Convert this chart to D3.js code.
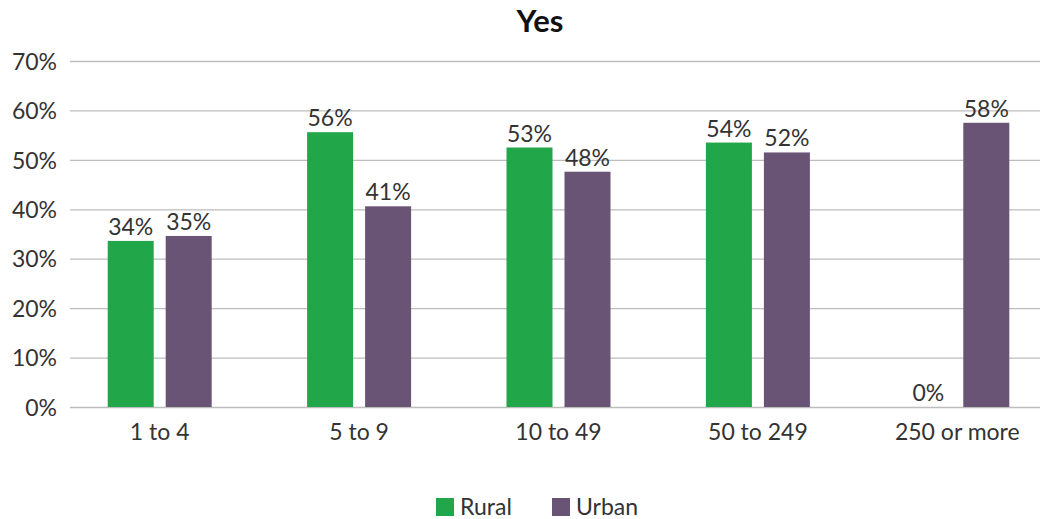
<!DOCTYPE html>
<html><head><meta charset="utf-8">
<script src="https://cdn.jsdelivr.net/npm/d3@7"></script>
<style>body{margin:0;background:#fff}svg{display:block}text{font-family:Lato,"Open Sans",sans-serif}</style>
</head><body><svg id="c" width="1040" height="519"></svg>
<script>
const categories = ["1 to 4","5 to 9","10 to 49","50 to 249","250 or more"];
const series = ["Rural","Urban"];
const rural = [33.6,55.6,52.5,53.5,0];
const urban = [34.6,40.6,47.6,51.5,57.5];
const yTicks = [0,10,20,30,40,50,60,70];
const colors = {Rural:"#22A64A", Urban:"#6A5475"};
const title = "Yes";

const svg = d3.select("#c");
const x = d3.scaleBand().domain(categories).range([60,1057]);
const y = d3.scaleLinear().domain([0,70]).range([407,61]);
const barW = 46, gap = 12;
const fs = 23;

svg.append("text").attr("x",540).attr("y",32).attr("text-anchor","middle")
  .attr("font-size",31).attr("font-weight","bold").attr("fill","#111").text(title);

const gy = svg.append("g").attr("transform","translate(70,0)")
  .call(d3.axisLeft(y).tickValues(yTicks).tickSize(-970).tickPadding(13).tickFormat(d=>d+"%"));
gy.select(".domain").remove();
gy.selectAll(".tick line").attr("stroke","#bdbdbd").attr("stroke-width",1.3);
gy.selectAll(".tick text").attr("font-size",fs).attr("fill","#333").attr("dy","0.36em");

const gx = svg.append("g").attr("transform","translate(0,407)")
  .call(d3.axisBottom(x).tickSize(0).tickPadding(17));
gx.select(".domain").remove();
gx.selectAll(".tick text").attr("font-size",fs).attr("fill","#333");

const data = [];
categories.forEach((c,i)=>{
  data.push({c, s:"Rural", v:rural[i], off:-(gap/2+barW)});
  data.push({c, s:"Urban", v:urban[i], off:gap/2});
});
svg.append("g").selectAll("rect").data(data).join("rect")
  .attr("x",d=>x(d.c)+x.bandwidth()/2+d.off).attr("width",barW)
  .attr("y",d=>y(d.v)).attr("height",d=>y(0)-y(d.v)).attr("fill",d=>colors[d.s]);
svg.append("g").selectAll("text").data(data).join("text")
  .attr("x",d=>x(d.c)+x.bandwidth()/2+d.off+barW/2).attr("y",d=>y(d.v)-6)
  .attr("text-anchor","middle").attr("font-size",fs).attr("fill","#333")
  .text(d=>Math.round(d.v)+"%");

const legX = [436,552];
const lg = svg.append("g").selectAll("g").data(series).join("g")
  .attr("transform",(d,i)=>`translate(${legX[i]},498)`);
lg.append("rect").attr("width",18).attr("height",18).attr("fill",d=>colors[d]);
lg.append("text").attr("x",24).attr("y",17).attr("font-size",fs).attr("fill","#333").text(d=>d);
</script></body></html>
